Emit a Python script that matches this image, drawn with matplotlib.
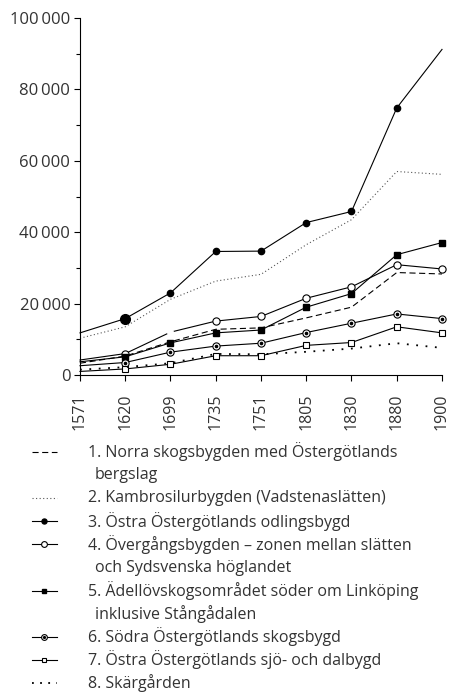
import matplotlib
matplotlib.use('Agg')
import matplotlib.pyplot as plt
from matplotlib.ticker import MultipleLocator, FuncFormatter

plt.rcParams['font.family'] = ['Open Sans', 'DejaVu Sans']

# data (inhabitants per area)
years = ['1571', '1620', '1699', '1735', '1751', '1805', '1830', '1880', '1900']
s1 = [3300, 5300, 9300, 12800, 13200, 16000, 19000, 28700, 28300]
s2 = [10300, 13500, 21200, 26300, 28200, 36500, 43500, 57000, 56200]
s3 = [11800, 15800, 23000, 34600, 34700, 42700, 45800, 74800, 91200]
s4 = [4200, 6000, 12000, 15100, 16400, 21500, 24700, 30900, 29700]
s5 = [3700, 5100, 9000, 11800, 12600, 19000, 22800, 33700, 37100]
s6 = [2600, 3500, 6400, 8100, 8900, 11900, 14500, 17100, 15800]
s7 = [1000, 1700, 3000, 5400, 5400, 8300, 9100, 13500, 11800]
s8 = [1500, 2200, 3300, 5900, 5800, 6500, 7400, 8900, 7600]

labels = [
    ('1. Norra skogsbygden med Östergötlands', 'bergslag'),
    ('2. Kambrosilurbygden (Vadstenaslätten)', None),
    ('3. Östra Östergötlands odlingsbygd', None),
    ('4. Övergångsbygden – zonen mellan slätten', 'och Sydsvenska höglandet'),
    ('5. Ädellövskogsområdet söder om Linköping', 'inklusive Stångådalen'),
    ('6. Södra Östergötlands skogsbygd', None),
    ('7. Östra Östergötlands sjö- och dalbygd', None),
    ('8. Skärgården', None),
]

lw = 0.8
txt = '#333333'

# one style per series, shared by the chart and the legend
styles = [
    dict(color='black', lw=lw, dashes=(5.5, 3.2)),
    dict(color='#555555', lw=lw, dashes=(1, 2.2)),
    dict(color='black', lw=lw, marker='o', ms=4.5),
    dict(color='black', lw=lw, marker='o', ms=5.2, mfc='white', mec='black', mew=0.8),
    dict(color='black', lw=lw, marker='s', ms=4),
    dict(color='black', lw=lw, marker='o', ms=5.2, mfc='white', mec='black', mew=0.8),
    dict(color='black', lw=lw, marker='s', ms=4.3, mfc='white', mec='black', mew=0.8),
    dict(color='black', lw=1.3, dashes=(1, 4.2)),
]

fig = plt.figure(figsize=(4.6, 6.99), dpi=100)

# legend drawn in pixel coordinates below the chart
leg = fig.add_axes([0, 0, 1, 1])
leg.set_xlim(0, 460)
leg.set_ylim(699, 0)
leg.axis('off')

ax = fig.add_axes([80 / 460, 1 - 375 / 699, 362 / 460, 357 / 699])
x = list(range(len(years)))
series = [s1, s2, s3, s4, s5, s6, s7, s8]

for i, (s, st) in enumerate(zip(series, styles)):
    kw = dict(st)
    if 'marker' in kw:
        if i == 2:
            kw['markevery'] = list(range(1, 8))
        elif i == 3:
            kw['markevery'] = [1, 3, 4, 5, 6, 7, 8]
        else:
            kw['markevery'] = list(range(1, 9))
    ax.plot(x, s, clip_on=False, **kw)
    if i == 2:
        ax.plot(x[1], s[1], 'o', color='black', ms=7, clip_on=False)
    if i == 3:
        ax.plot(x[2], s[2], 'o', mfc='white', mec='white', ms=4)
    if i == 5:
        ax.plot(x[1:], s[1:], 'o', color='black', ms=1.6, lw=0, clip_on=False)

ax.set_xlim(0, len(years) - 1)
ax.set_ylim(0, 100000)
ax.set_xticks(x)
ax.set_xticklabels(years, rotation=90)
ax.yaxis.set_major_locator(MultipleLocator(20000))
ax.yaxis.set_minor_locator(MultipleLocator(10000))
ax.yaxis.set_major_formatter(FuncFormatter(lambda v, p: f'{int(v):,}'.replace(',', '\u2009')))
ax.tick_params(axis='y', which='major', direction='out', length=4, width=0.8, pad=3,
               labelsize=12, labelcolor=txt)
ax.tick_params(axis='y', which='minor', direction='out', length=3, width=0.8)
ax.tick_params(axis='x', direction='out', length=4, width=0.8, pad=9,
               labelsize=11.5, labelcolor=txt)
for side in ['top', 'right']:
    ax.spines[side].set_visible(False)
for side in ['left', 'bottom']:
    ax.spines[side].set_linewidth(0.8)

row = 452
step = 23.1
for i, (first, second) in enumerate(labels):
    kw = dict(styles[i])
    if 'marker' in kw:
        kw['markevery'] = [1]
        kw['ms'] = kw['ms'] * 0.8
    if i == 7:
        kw['dashes'] = (1, 3.5)
    leg.plot([32, 44.5, 57], [row, row, row], **kw)
    if i == 5:
        leg.plot(44.5, row, 'o', color='black', ms=1.3)
    leg.text(88, row, first, fontsize=11.5, color=txt, va='center')
    row += step
    if second:
        leg.text(95, row, second, fontsize=11.5, color=txt, va='center')
        row += step

fig.savefig('out.png', dpi=100)
